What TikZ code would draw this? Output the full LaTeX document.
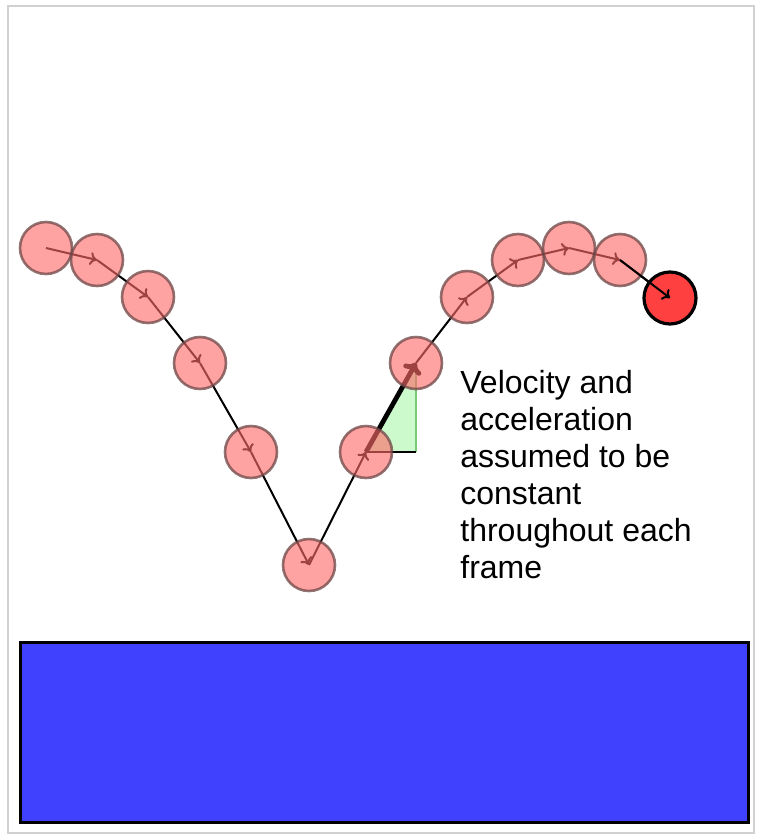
\documentclass[tikz,border=0pt]{standalone}
\usepackage{fontspec}
\setmainfont{Liberation Sans}
\usetikzlibrary{arrows,arrows.meta}

\definecolor{ballpink}{RGB}{255,105,105}
\definecolor{ballrim}{RGB}{110,70,70}
\definecolor{ballred}{RGB}{255,64,64}
\definecolor{groundblue}{RGB}{64,64,255}
\definecolor{slopefill}{RGB}{204,250,204}
\definecolor{slopeedge}{RGB}{120,200,120}

\begin{document}
\begin{tikzpicture}[x=0.5pt,y=-0.5pt,>={To[length=3.5pt,width=6.5pt]},
  ball/.style={circle,fill=ballpink,fill opacity=0.62,draw=ballrim,draw opacity=0.75,line width=1.3pt,minimum size=26pt,inner sep=0pt},
  last ball/.style={circle,fill=ballred,draw=black,line width=1.6pt,minimum size=26pt,inner sep=0pt},
  note/.style={align=left,inner sep=0pt,font=\fontsize{16}{18.5}\selectfont}]

  \useasboundingbox (0,0) rectangle (759,836);
  \draw[black!18,line width=0.6pt] (8,6) rectangle (754,833);
  \draw[fill=groundblue,line width=1.5pt] (20,642) rectangle (748,822);

  \coordinate (p1) at (46,248);
  \coordinate (p2) at (97,260);
  \coordinate (p3) at (148,297);
  \coordinate (p4) at (200,363);
  \coordinate (p5) at (251,452);
  \coordinate (p6) at (309,565);
  \coordinate (p7) at (366,452);
  \coordinate (p8) at (416,363);
  \coordinate (p9) at (467,297);
  \coordinate (p10) at (518,260);
  \coordinate (p11) at (569,248);
  \coordinate (p12) at (620,260);
  \coordinate (p13) at (670,298);
  \coordinate (c) at (416,452);

  \fill[slopefill] (p7) -- (c) -- (p8) -- cycle;
  \draw[slopeedge,line width=0.8pt] (c) -- (p8);
  \draw[line width=0.8pt] (p7) -- (c);

  \path[->,line width=1pt]
    (p1) edge (p2)
    (p2) edge (p3)
    (p3) edge (p4)
    (p4) edge (p5)
    (p5) edge (p6)
    (p6) edge (p7)
    (p7) edge (p8)
    (p8) edge (p9)
    (p9) edge (p10)
    (p10) edge (p11)
    (p11) edge (p12)
    (p12) edge (p13)
    ;
  \draw[-{To[length=5pt,width=10pt]},line width=2.4pt] (p7) -- (p8);

  \node[ball] (b1) at (p1) {};
  \node[ball] (b2) at (p2) {};
  \node[ball] (b3) at (p3) {};
  \node[ball] (b4) at (p4) {};
  \node[ball] (b5) at (p5) {};
  \node[ball] (b6) at (p6) {};
  \node[ball] (b7) at (p7) {};
  \node[ball] (b8) at (p8) {};
  \node[ball] (b9) at (p9) {};
  \node[ball] (b10) at (p10) {};
  \node[ball] (b11) at (p11) {};
  \node[ball] (b12) at (p12) {};
  \node[last ball] (b13) at (p13) {};
  \draw[->,line width=1pt] (p12) -- (p13);

  \node[note,anchor=north west] (txt) at (460,370) {Velocity and\\acceleration\\assumed to be\\constant\\throughout each\\frame};
\end{tikzpicture}
\end{document}
